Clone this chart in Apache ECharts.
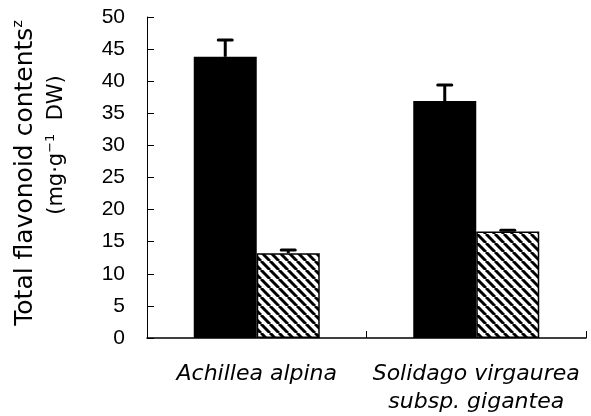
<!DOCTYPE html>
<html>
<head>
<meta charset="utf-8">
<script src="https://cdn.jsdelivr.net/npm/echarts@6/dist/echarts.min.js"></script>
<style>
  html, body { margin: 0; padding: 0; background: #fff; }
  #chart { width: 591px; height: 416px; }
</style>
</head>
<body>
<div id="chart"></div>
<script>
  // data
  var categories = ['Achillea alpina', 'Solidago virgaurea\nsubsp. gigantea'];
  var darkValues = [43.8, 36.9];
  var darkErrors = [2.6, 2.5];
  var hatchValues = [13.2, 16.6];
  var hatchErrors = [0.5, 0.2];

  var BAR_W = 63;

  // diagonal hatch "\\\\"
  function hatchPattern () {
    var c = document.createElement('canvas');
    c.width = 9;
    c.height = 9;
    var ctx = c.getContext('2d');
    ctx.fillStyle = '#fff';
    ctx.fillRect(0, 0, 9, 9);
    ctx.strokeStyle = '#000';
    ctx.lineWidth = 3;
    [-9, 0, 9].forEach(function (k) {
      ctx.beginPath();
      ctx.moveTo(k, 0);
      ctx.lineTo(k + 9, 9);
      ctx.stroke();
    });
    return c;
  }

  function errorRender (offset) {
    return function (params, api) {
      var cat = api.value(0);
      var v = api.value(1);
      var e = api.value(2);
      var base = api.coord([cat, v]);
      var top = api.coord([cat, v + e]);
      var x = base[0] + offset;
      return {
        type: 'group',
        children: [
          { type: 'line', shape: { x1: x, y1: base[1], x2: x, y2: top[1] }, style: { stroke: '#000', lineWidth: 3 } },
          { type: 'line', shape: { x1: x - 7, y1: top[1], x2: x + 7, y2: top[1] }, style: { stroke: '#000', lineWidth: 3, lineCap: 'round' } }
        ]
      };
    };
  }

  function errData (vals, errs) {
    return vals.map(function (v, i) { return [i, v, errs[i]]; });
  }

  var chart = echarts.init(document.getElementById('chart'));
  var option = {
    animation: false,
    grid: { left: 147, right: 5, top: 17, bottom: 75 },
    xAxis: {
      type: 'category',
      data: categories,
      axisLine: { lineStyle: { color: '#000', width: 1.5 } },
      axisTick: { show: true, inside: true, length: 7, lineStyle: { color: '#000' } },
      axisLabel: {
        interval: 0,
        color: '#000',
        fontFamily: 'DejaVu Sans',
        fontStyle: 'italic',
        fontSize: 22,
        lineHeight: 28,
        margin: 22
      }
    },
    yAxis: {
      type: 'value',
      min: 0,
      max: 50,
      interval: 5,
      splitLine: { show: false },
      axisLine: { show: true, lineStyle: { color: '#000', width: 1 } },
      axisTick: { show: true, inside: true, length: 7, lineStyle: { color: '#000' } },
      axisLabel: {
        color: '#000',
        fontFamily: 'Liberation Sans',
        fontSize: 21,
        margin: 22
      }
    },
    graphic: [
      {
        type: 'text',
        x: 25,
        y: 173,
        rotation: Math.PI / 2,
        style: {
          text: 'Total flavonoid contents{sup|z}',
          fontFamily: 'DejaVu Sans',
          fontSize: 25,
          fill: '#000',
          align: 'center',
          verticalAlign: 'middle',
          rich: {
            sup: { fontSize: 14, fontFamily: 'DejaVu Sans', verticalAlign: 'top', padding: [0, 0, 14, 0] }
          }
        }
      },
      {
        type: 'text',
        x: 57,
        y: 145,
        rotation: Math.PI / 2,
        style: {
          text: '(mg·g{sup|−1}  DW)',
          fontFamily: 'DejaVu Sans',
          fontSize: 21,
          fill: '#000',
          align: 'center',
          verticalAlign: 'middle',
          rich: {
            sup: { fontSize: 13, fontFamily: 'DejaVu Sans', verticalAlign: 'top', padding: [0, 0, 12, 0] }
          }
        }
      }
    ],
    series: [
      {
        name: 'dark',
        type: 'bar',
        barWidth: BAR_W,
        barGap: '0%',
        itemStyle: { color: '#000' },
        data: darkValues
      },
      {
        name: 'hatch',
        type: 'bar',
        barWidth: BAR_W,
        barGap: '0%',
        itemStyle: {
          color: { image: hatchPattern(), repeat: 'repeat' },
          borderColor: '#000',
          borderWidth: 1.5
        },
        data: hatchValues
      },
      {
        type: 'custom',
        z: 5,
        renderItem: errorRender(-BAR_W / 2),
        data: errData(darkValues, darkErrors)
      },
      {
        type: 'custom',
        z: 5,
        renderItem: errorRender(BAR_W / 2),
        data: errData(hatchValues, hatchErrors)
      }
    ]
  };
  chart.setOption(option);
</script>
</body>
</html>
